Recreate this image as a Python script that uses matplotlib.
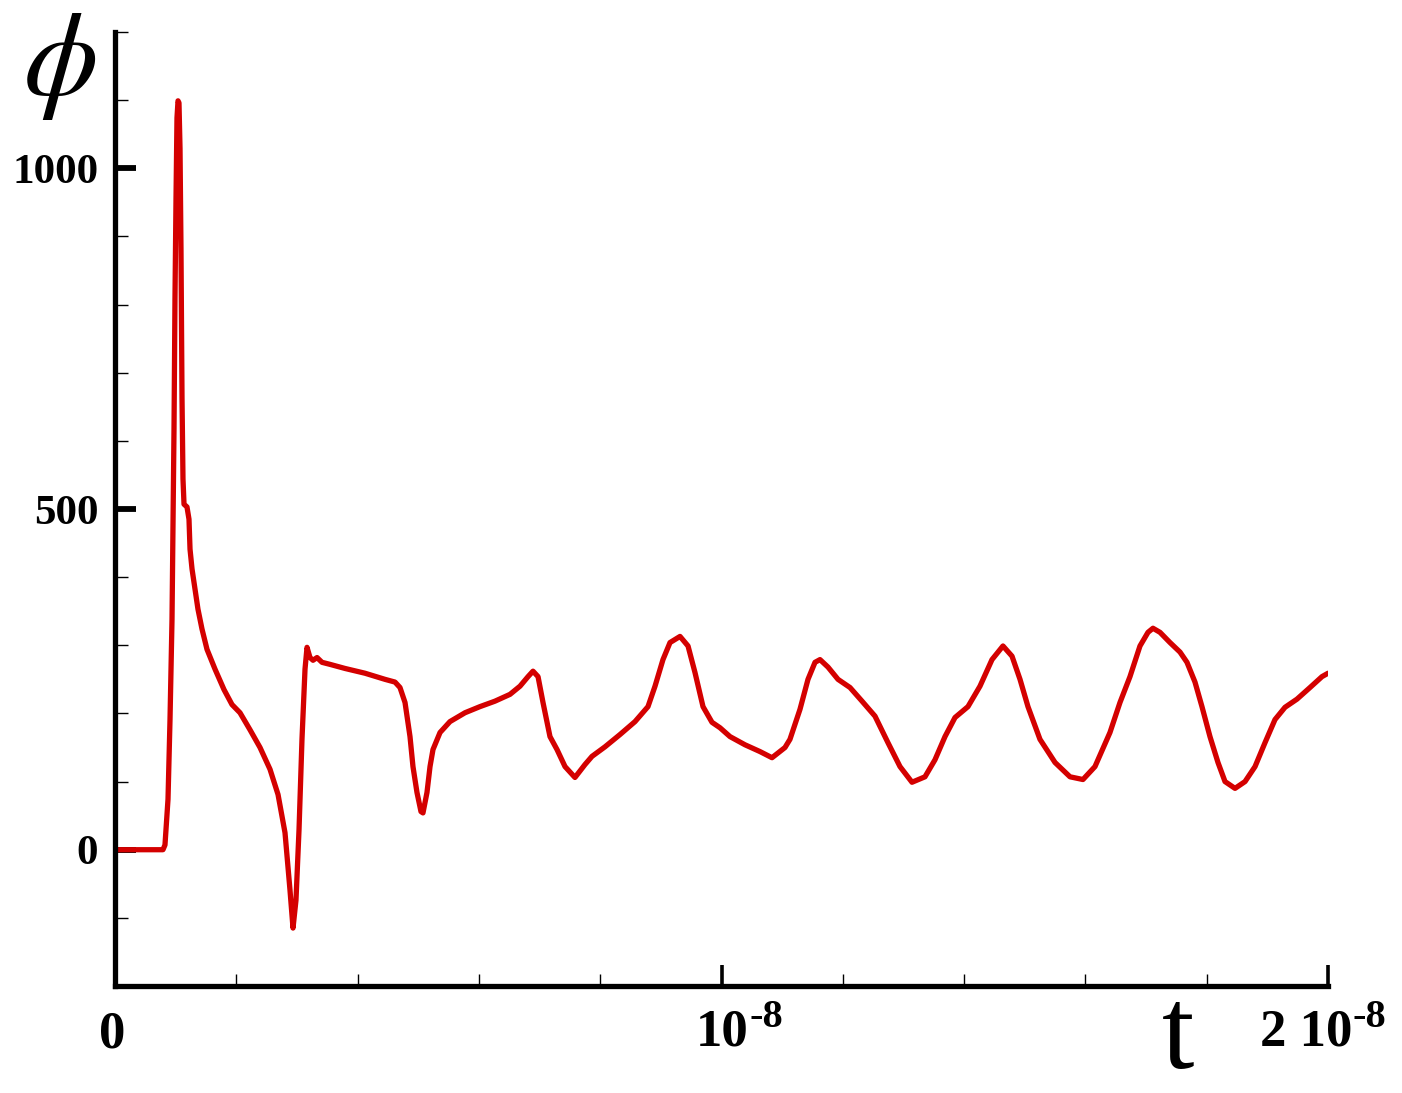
import numpy as np
import matplotlib
matplotlib.use("Agg")
import matplotlib.pyplot as plt
from matplotlib.ticker import MultipleLocator, FixedLocator
import matplotlib.transforms as mtransforms

# ---- data (t in ns, phi) ----
t_ns = [0.000, 0.791, 0.824, 0.874, 0.907, 0.940, 0.973, 0.989, 1.006, 1.022,
        1.039, 1.055, 1.072, 1.088, 1.105, 1.121, 1.138, 1.187, 1.220, 1.237,
        1.270, 1.319, 1.368, 1.434, 1.517, 1.649, 1.797, 1.929, 2.061, 2.226,
        2.391, 2.556, 2.688, 2.803, 2.885, 2.935, 2.984, 3.034, 3.083, 3.133,
        3.166, 3.215, 3.265, 3.331, 3.413, 3.545, 3.792, 4.122, 4.452, 4.617,
        4.699, 4.782, 4.864, 4.913, 4.979, 5.045, 5.078, 5.144, 5.194, 5.243,
        5.359, 5.523, 5.771, 6.018, 6.265, 6.513, 6.678, 6.810, 6.892, 6.975,
        7.057, 7.172, 7.288, 7.420, 7.584, 7.749, 7.865, 8.079, 8.326, 8.574,
        8.788, 8.904, 9.035, 9.151, 9.316, 9.448, 9.563, 9.695, 9.843, 9.975,
        10.140, 10.387, 10.635, 10.833, 11.047, 11.129, 11.294, 11.426, 11.542, 11.624,
        11.756, 11.921, 12.119, 12.317, 12.531, 12.745, 12.943, 13.141, 13.355, 13.520,
        13.685, 13.850, 14.064, 14.262, 14.460, 14.641, 14.790, 14.922, 15.053, 15.251,
        15.499, 15.746, 15.960, 16.158, 16.405, 16.570, 16.735, 16.900, 17.032, 17.114,
        17.230, 17.395, 17.560, 17.675, 17.807, 17.922, 18.054, 18.186, 18.302, 18.467,
        18.632, 18.797, 18.961, 19.126, 19.291, 19.489, 19.703, 19.901, 20.000]
phi = [0, 0, 7, 74, 191, 338, 618, 809, 956, 1074,
       1099, 1096, 1029, 882, 662, 544, 507, 503, 485, 441,
       412, 382, 353, 324, 294, 265, 235, 213, 201, 176,
       150, 118, 81, 25, -59, -115, -74, 29, 162, 265,
       297, 282, 278, 282, 275, 272, 266, 259, 250, 246,
       238, 216, 166, 122, 84, 56, 54, 84, 122, 147,
       172, 188, 201, 210, 218, 228, 240, 254, 262, 254,
       216, 166, 147, 122, 106, 125, 137, 151, 169, 188,
       210, 240, 279, 304, 313, 299, 260, 210, 187, 179,
       166, 154, 144, 135, 150, 162, 206, 250, 275, 279,
       268, 250, 238, 218, 196, 157, 122, 99, 107, 132,
       166, 194, 210, 240, 279, 299, 284, 250, 210, 162,
       128, 107, 103, 122, 172, 216, 254, 299, 319, 325,
       319, 304, 290, 275, 246, 210, 166, 128, 100, 90,
       100, 122, 157, 191, 209, 221, 238, 254, 259]

x_major = [0.0, 1e-8, 2e-8]
x_base = ["0", "10", "2 10"]
x_sup = ["", "-8", "-8"]
y_major = [0, 500, 1000]
y_labels = ["0", "500", "1000"]

plt.rcParams["mathtext.fontset"] = "stix"
plt.rcParams["font.family"] = ["Liberation Serif", "DejaVu Serif"]

W, H = 1402, 1093
fig = plt.figure(figsize=(W / 100, H / 100), dpi=100)
ax = fig.add_axes([115 / W, 1 - 986 / H, (1328 - 115) / W, (986 - 32) / H])

t = np.array(t_ns) * 1e-9
ax.plot(t, phi, color="#d40000", lw=3.8, solid_joinstyle="round",
        solid_capstyle="round", zorder=2)

ax.set_xlim(0, 2e-8)
ax.set_ylim(-200, 1200)

for s in ["top", "right"]:
    ax.spines[s].set_visible(False)
for s in ["left", "bottom"]:
    ax.spines[s].set_linewidth(3.8)
    ax.spines[s].set_zorder(3)

ax.xaxis.set_major_locator(FixedLocator(x_major))
ax.xaxis.set_minor_locator(MultipleLocator(2e-9))
ax.yaxis.set_major_locator(FixedLocator(y_major))
ax.yaxis.set_minor_locator(MultipleLocator(100))
ax.set_yticklabels(y_labels, fontsize=31, fontweight="bold")
ax.set_xticklabels([])

ax.tick_params(axis="y", which="major", direction="in", length=15, width=4.2, pad=12)
ax.tick_params(axis="y", which="minor", direction="in", length=9, width=1.0)
ax.tick_params(axis="x", which="major", direction="in", length=15, width=2.6)
ax.tick_params(axis="x", which="minor", direction="in", length=9, width=1.0)

# x tick labels placed below the axis (base text + superscript exponent)
blend = mtransforms.blended_transform_factory(ax.transData, fig.transFigure)
for xv, base, sup in zip(x_major, x_base, x_sup):
    if sup:
        dx = 27 if xv < 1.5e-8 else 24
        tr = blend + mtransforms.ScaledTranslation(dx / 100, 0, fig.dpi_scale_trans)
        ax.text(xv, 1 - 1046 / H, base, transform=tr, ha="right", va="baseline",
                fontsize=38, fontweight="bold", clip_on=False)
        tr2 = blend + mtransforms.ScaledTranslation((dx + 1) / 100, 0, fig.dpi_scale_trans)
        ax.text(xv, 1 - 1027 / H, sup, transform=tr2, ha="left", va="baseline",
                fontsize=29, fontweight="bold", clip_on=False)
    else:
        tr = blend + mtransforms.ScaledTranslation(-3 / 100, 0, fig.dpi_scale_trans)
        ax.text(xv, 1 - 1047 / H, base, transform=tr, ha="center", va="baseline",
                fontsize=38, fontweight="bold", clip_on=False)

# axis titles
fig.text(1178 / W, 1 - 1068 / H, "t", ha="center", va="baseline", fontsize=84)
fig.text(60 / W, 1 - 67 / H, r"$\phi$", ha="center", va="center", fontsize=86)

fig.savefig("out.png", dpi=100, facecolor="white")
